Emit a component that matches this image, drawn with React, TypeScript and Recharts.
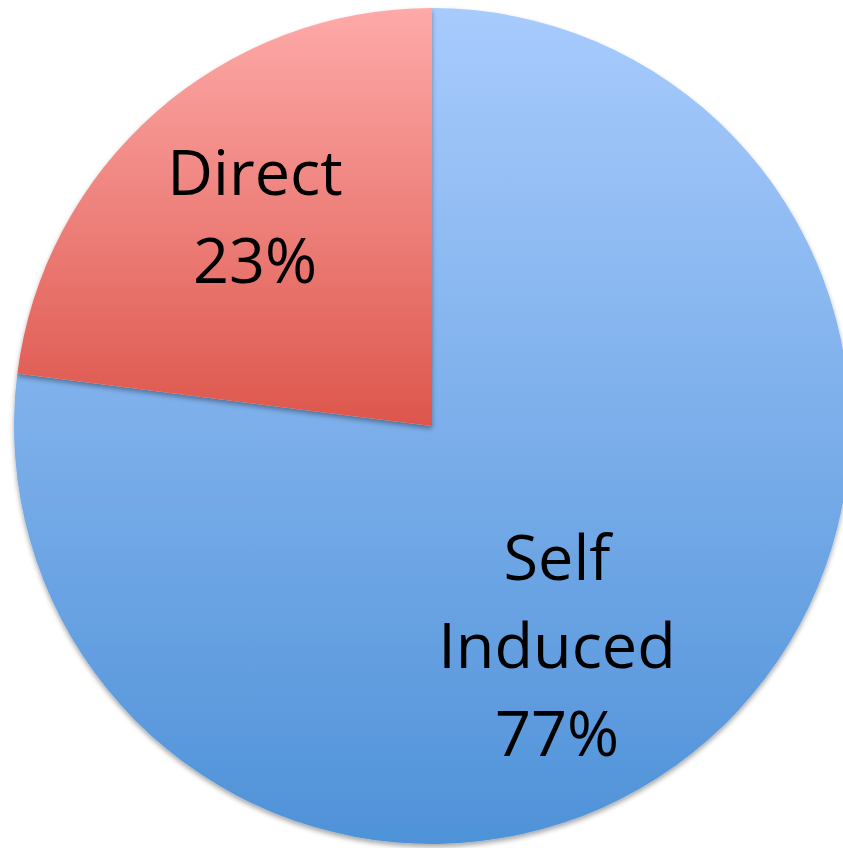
import { Cell, Pie, PieChart } from "recharts";

type SliceDatum = {
  name: string;
  value: number;
};

const categories = ["Self Induced", "Direct"];
const shares = [77, 23];
const labelLines = [["Self", "Induced", "77%"], ["Direct", "23%"]];

const data: SliceDatum[] = categories.map((name, i) => ({ name, value: shares[i] }));

const gradientIds = ["selfGrad", "directGrad"];
// small angle shift so labels sit where the original placed them
const labelAngleShift = [-11.5, -1.5];
const labelRadius = [0.6, 0.66];

const RADIAN = Math.PI / 180;

function renderLabel(props: any) {
  const { cx, cy, midAngle, outerRadius, index } = props;
  const angle = (midAngle + labelAngleShift[index]) * RADIAN;
  const r = outerRadius * labelRadius[index];
  const x = cx + r * Math.cos(angle);
  const y = cy - r * Math.sin(angle);
  const lines = labelLines[index];
  const lineHeight = 88;
  const firstY = y - ((lines.length - 1) * lineHeight) / 2;
  return (
    <text
      x={x}
      y={firstY}
      textAnchor="middle"
      dominantBaseline="central"
      fill="#000000"
      fontFamily="'Open Sans', sans-serif"
      fontSize={63}
    >
      {lines.map((line, i) => (
        <tspan key={line} x={x} y={firstY + i * lineHeight} dominantBaseline="central">
          {line}
        </tspan>
      ))}
    </text>
  );
}

export default function App() {
  return (
    <div style={{ position: "absolute", left: 0, top: 0, width: 843, height: 848 }}>
      <PieChart width={843} height={848} margin={{ top: 0, right: 0, bottom: 0, left: 0 }}>
        <defs>
          <linearGradient id="selfGrad" x1="0" y1="0" x2="0" y2="1">
            <stop offset="0%" stopColor="#a8cbfd" />
            <stop offset="100%" stopColor="#4f92d8" />
          </linearGradient>
          <linearGradient id="directGrad" x1="0" y1="0" x2="0" y2="1">
            <stop offset="0%" stopColor="#feaaa9" />
            <stop offset="100%" stopColor="#dd564c" />
          </linearGradient>
          <filter id="pieShadow" x="-5%" y="-5%" width="110%" height="110%">
            <feDropShadow dx="0" dy="3" stdDeviation="2.5" floodColor="#000" floodOpacity="0.35" />
          </filter>
        </defs>
        <Pie
          data={data}
          dataKey="value"
          nameKey="name"
          cx={432}
          cy={426}
          outerRadius={418}
          startAngle={90}
          endAngle={-270}
          stroke="none"
          labelLine={false}
          label={renderLabel}
          isAnimationActive={false}
          style={{ filter: "url(#pieShadow)" }}
        >
          {data.map((entry, i) => (
            <Cell key={entry.name} fill={`url(#${gradientIds[i]})`} />
          ))}
        </Pie>
      </PieChart>
    </div>
  );
}
